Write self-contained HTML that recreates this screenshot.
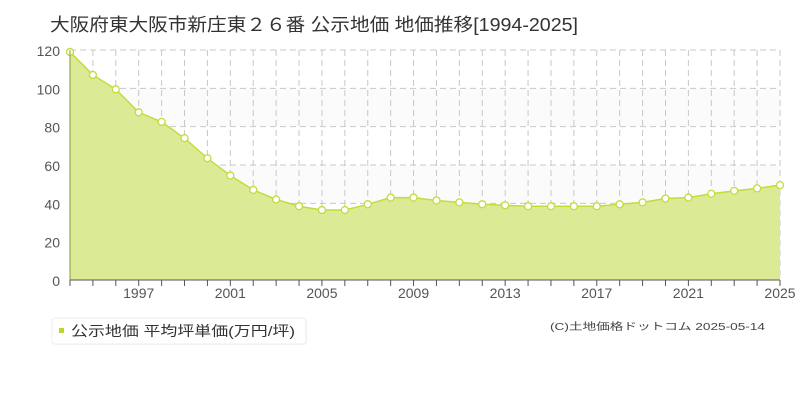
<!DOCTYPE html>
<html><head><meta charset="utf-8"><style>
body{margin:0;background:#fff;width:800px;height:400px;overflow:hidden;font-family:"Liberation Sans","Noto Sans CJK JP",sans-serif}
</style></head><body>
<svg id="s" width="800" height="400" xmlns="http://www.w3.org/2000/svg" font-family="Liberation Sans, Noto Sans CJK JP, sans-serif"></svg>
<script>
const d=[119,107,99.5,87.5,82.5,74,63.5,54.5,47,42,38.5,36.5,36.5,39.5,43,43,41.5,40.5,39.5,39,38.5,38.5,38.5,38.5,39.5,40.5,42.5,43,45,46.5,47.8,49.5];
const X=i=>70+i*710/31, Y=v=>280-v*230/120;
let h='';
h+=`<text x="50" y="31" font-size="18" fill="#333" textLength="528" lengthAdjust="spacingAndGlyphs">大阪府東大阪市新庄東２６番 公示地価 地価推移[1994-2025]</text>`;
h+=`<rect x="70" y="50" width="710" height="230" fill="#fff"/>`;
h+=`<rect x="70" y="88" width="710" height="38" fill="#fbfbfb"/><rect x="70" y="165" width="710" height="38" fill="#fbfbfb"/>`;
for(let k=0;k<=6;k++){const y=Y(k*20);h+=`<line x1="70" x2="780" y1="${y}" y2="${y}" stroke="#c8c8c8" stroke-dasharray="6,4"/>`;
h+=`<text x="60" y="${y+6}" font-size="14" fill="#555" text-anchor="end">${k*20}</text>`;}
for(let i=1;i<=31;i++){const x=X(i);h+=`<line x1="${x}" x2="${x}" y1="50" y2="280" stroke="#c8c8c8" stroke-dasharray="6,4"/>`;}
let p=d.map((v,i)=>`${X(i)},${Y(v)}`).join(' ');
h+=`<polygon points="70,280 ${p} 780,280" fill="#dbeb95"/>`;
h+=`<polyline points="${p}" fill="none" stroke="#c2dc3c" stroke-width="1.5"/>`;
d.forEach((v,i)=>{h+=`<circle cx="${X(i)}" cy="${Y(v)}" r="3.5" fill="#fff" stroke="#c2dc3c" stroke-width="1.3"/>`;});
h+=`<line x1="70" x2="70" y1="50" y2="280" stroke="#8a9a40"/><line x1="70" x2="780" y1="280" y2="280" stroke="#555"/>`;
for(let i=0;i<=31;i++){const x=X(i);h+=`<line x1="${x}" x2="${x}" y1="280" y2="286" stroke="#555"/>`;
if((1994+i-1997)%4==0)h+=`<text x="${x}" y="298" font-size="14" fill="#555" text-anchor="middle">${1994+i}</text>`;}
h+=`<rect x="53" y="319" width="254" height="26" rx="3" fill="#f4f4f4"/><rect x="52" y="318" width="254" height="26" rx="3" fill="#fff" stroke="#eee"/>`;
h+=`<rect x="59" y="328" width="5" height="5" fill="#b8d830"/>`;
h+=`<text x="71" y="336" font-size="14" fill="#333" textLength="224" lengthAdjust="spacingAndGlyphs">公示地価 平均坪単価(万円/坪)</text>`;
h+=`<text x="550" y="330" font-size="10" fill="#444" textLength="215" lengthAdjust="spacingAndGlyphs">(C)土地価格ドットコム 2025-05-14</text>`;
document.getElementById('s').innerHTML=h;
</script>
</body></html>
